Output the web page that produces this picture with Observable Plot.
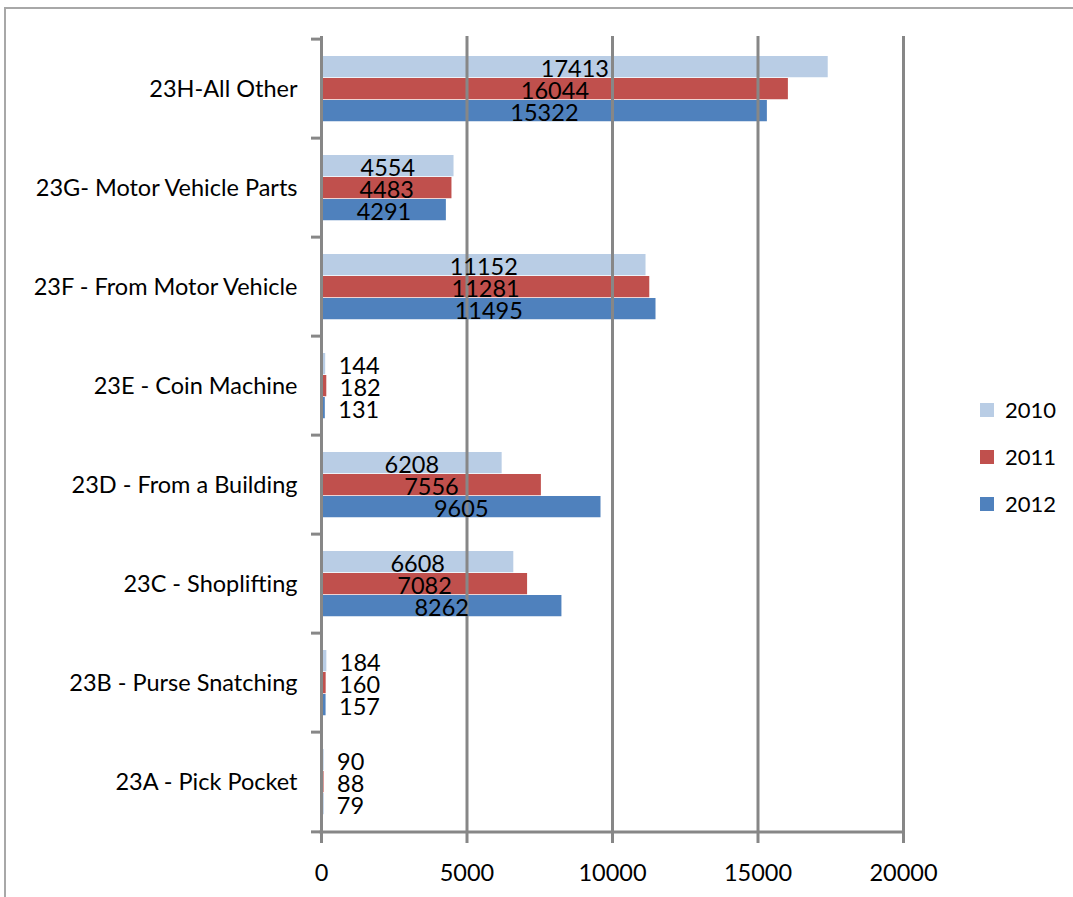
<!DOCTYPE html>
<html>
<head>
<meta charset="utf-8">
<script src="https://cdn.jsdelivr.net/npm/d3@7"></script>
<script src="https://cdn.jsdelivr.net/npm/@observablehq/plot@0.6"></script>
<style>
  html, body { margin: 0; padding: 0; background: #fff; }
  #wrap { position: relative; width: 1073px; height: 897px; overflow: hidden; font-family: Lato, sans-serif; }
  #border { position: absolute; left: 4px; top: 7px; width: 1200px; height: 1000px; border-top: 2px solid #a8a8a8; border-left: 2px solid #a8a8a8; }
  #chart { position: absolute; left: 0; top: 0; }
  #legend { position: absolute; left: 980px; top: 386px; font-size: 22px; color: #000; }
  .item { display: flex; align-items: center; height: 47px; }
  .sw { width: 14px; height: 14px; margin-right: 11px; }
</style>
</head>
<body>
<div id="wrap">
  <div id="border"></div>
  <div id="chart"></div>
  <div id="legend"></div>
</div>
<script>
const categories = [
  "23H-All Other",
  "23G- Motor Vehicle Parts",
  "23F - From Motor Vehicle",
  "23E - Coin Machine",
  "23D - From a Building",
  "23C - Shoplifting",
  "23B - Purse Snatching",
  "23A - Pick Pocket"
];
const years = ["2010", "2011", "2012"];
const values2010 = [17413, 4554, 11152, 144, 6208, 6608, 184, 90];
const values2011 = [16044, 4483, 11281, 182, 7556, 7082, 160, 88];
const values2012 = [15322, 4291, 11495, 131, 9605, 8262, 157, 79];
const xTicks = [0, 5000, 10000, 15000, 20000];
const colors = ["#B9CDE5", "#C0504D", "#4F81BD"];

const series = [values2010, values2011, values2012];
const rows = [];
years.forEach((yr, j) => categories.forEach((c, i) => rows.push({category: c, year: yr, j, value: series[j][i]})));

const W = 1073, H = 897;
const mTop = 36, mBottom = 63, mLeft = 321, mRight = 170;
const step = (H - mTop - mBottom) / categories.length;
const barH = 22, firstTop = 17;
const grid = "#878787";
const fs = 23.5;

const marks = [];
years.forEach((yr, j) => {
  const top = firstTop + j * barH;
  marks.push(Plot.barX(rows.filter(d => d.j === j), {
    x: "value", y: "category", fill: colors[j],
    insetTop: top, insetBottom: step - top - barH
  }));
});
// gridlines and axis line
marks.push(Plot.ruleX(xTicks, {stroke: grid, strokeWidth: 3}));
// bottom axis line
marks.push(Plot.ruleY([categories[categories.length - 1]], {stroke: grid, strokeWidth: 3, dy: step / 2, insetLeft: -1.5, insetRight: -1.5}));
// left ticks at category boundaries
marks.push(Plot.ruleY(categories, {x1: 0, x2: 0, insetLeft: -10, stroke: grid, strokeWidth: 3, dy: -step / 2}));
marks.push(Plot.ruleY([categories[categories.length - 1]], {x1: 0, x2: 0, insetLeft: -10, stroke: grid, strokeWidth: 3, dy: step / 2}));
// value labels
years.forEach((yr, j) => {
  const dy = firstTop + j * barH + barH / 2 + 2 - step / 2;
  const sub = rows.filter(d => d.j === j);
  marks.push(Plot.text(sub.filter(d => d.value >= 1000), {
    x: d => d.value / 2, y: "category", text: d => String(d.value),
    dy, fontSize: fs, fill: "#000", textAnchor: "middle"
  }));
  marks.push(Plot.text(sub.filter(d => d.value < 1000), {
    x: "value", y: "category", text: d => String(d.value),
    dy, dx: 13, fontSize: fs, fill: "#000", textAnchor: "start"
  }));
});
marks.push(Plot.axisX({ticks: xTicks, tickSize: 9, stroke: grid, strokeWidth: 3, color: "#000", tickPadding: 21, fontSize: fs, label: null, tickFormat: d => String(d)}));
marks.push(Plot.axisY({tickSize: 0, tickPadding: 24, fontSize: fs, color: "#000", label: null}));

const chart = Plot.plot({
  width: W, height: H,
  marginTop: mTop, marginBottom: mBottom, marginLeft: mLeft, marginRight: mRight,
  style: {fontFamily: "Lato, sans-serif", fontSize: fs + "px", background: "transparent", overflow: "visible"},
  x: {domain: [0, 20000]},
  y: {domain: categories, padding: 0},
  marks
});
document.getElementById("chart").appendChild(chart);

const legend = document.getElementById("legend");
years.forEach((yr, j) => {
  const it = document.createElement("div");
  it.className = "item";
  const sw = document.createElement("div");
  sw.className = "sw";
  sw.style.background = colors[j];
  const t = document.createElement("span");
  t.textContent = yr;
  it.appendChild(sw); it.appendChild(t);
  legend.appendChild(it);
});
</script>
</body>
</html>
